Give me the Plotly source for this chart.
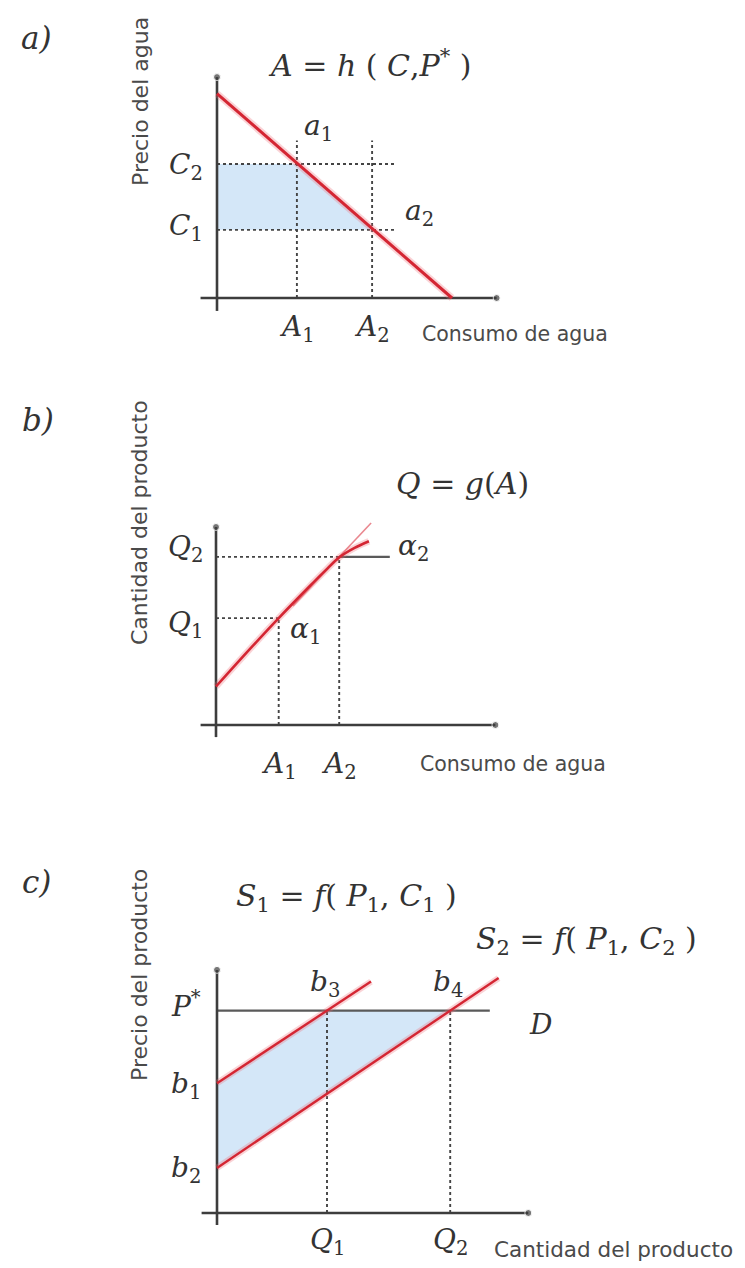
import plotly.graph_objects as go

W, H = 745, 1268

# ---------------- a) water price vs. water consumption ----------------
a_demand_x = [0.0, 10.0]
a_demand_y = [8.7, 0.0]
a_A = [3.4, 6.6]            # A1, A2 on the consumption axis
a_C = [2.9, 5.7]            # C1, C2 on the price axis
a_axis_end = (11.9, 9.4)    # arrow tips of x and y axes
a_guide_right = 7.6         # right end of the horizontal guides
a_guide_top = 6.7           # top end of the vertical guides

# ---------------- b) production function ----------------
b_curve_x = [0.0, 1.4, 2.85, 4.2, 5.0, 5.6, 6.3, 6.95]
b_curve_y = [1.75, 3.3, 4.86, 6.25, 7.05, 7.62, 8.05, 8.35]
b_tangent_x = [3.5, 7.05]
b_tangent_y = [5.41, 9.18]
b_A = [2.85, 5.6]           # A1, A2
b_Q = [4.86, 7.64]          # Q1, Q2
b_flat_end = 7.9
b_axis_end = (12.7, 9.0)

# ---------------- c) product market ----------------
c_s1_x = [0.0, 7.0]
c_s1_y = [5.9, 10.52]
c_s2_x = [0.0, 12.8]
c_s2_y = [2.05, 10.68]
c_Q = [5.0, 10.6]           # Q1, Q2
c_P = 9.2                   # P*
c_b = [5.9, 2.05]           # b1, b2 intercepts
c_D_end = 12.4
c_axis_end = (14.15, 11.05)

# page origin (px from left, px from top) and px per unit for each panel
FRAMES = [(217, 298, 23.5), (216, 725, 22.0), (217, 1213, 22.0)]
AX = [("x", "y"), ("x2", "y2"), ("x3", "y3")]

RED = "#d42633"
HALO = "rgba(240,110,120,0.30)"
AXIS = "#3d3d3d"
GUIDE = "#444444"
FILL = "#d4e7f8"
TXT = "#333333"
SANS_TXT = "#4a4a4a"
MATH = "DejaVu Serif, Liberation Serif, serif"
SANS = "DejaVu Sans, Verdana, sans-serif"
MATH_SIZE = 28
EQ_SIZE = 30

fig = go.Figure()


def trace(p, xs, ys, color, width, dash=None):
    fig.add_trace(go.Scatter(
        x=xs, y=ys, mode="lines",
        line=dict(color=color, width=width, dash=dash),
        xaxis=AX[p][0], yaxis=AX[p][1],
        hoverinfo="skip", showlegend=False))


def red(p, xs, ys, width=2.6, shape="linear"):
    for col, w in ((HALO, width + 4), (RED, width)):
        fig.add_trace(go.Scatter(x=xs, y=ys, mode="lines",
                                 line=dict(color=col, width=w, shape=shape, smoothing=0.8),
                                 xaxis=AX[p][0], yaxis=AX[p][1],
                                 hoverinfo="skip", showlegend=False))


def dashed(p, xs, ys):
    trace(p, xs, ys, GUIDE, 1.9, dash="3px,3px")


def region(p, xs, ys):
    fig.add_trace(go.Scatter(x=xs, y=ys, mode="lines", fill="toself",
                             fillcolor=FILL, line=dict(width=0),
                             xaxis=AX[p][0], yaxis=AX[p][1],
                             hoverinfo="skip", showlegend=False))


def axes(p, end):
    xe, ye = end
    for xs, ys in (([-0.7, xe], [0, 0]), ([0, 0], [-0.55, ye])):
        fig.add_trace(go.Scatter(x=xs, y=ys, mode="lines+markers",
                                 line=dict(color=AXIS, width=2.6),
                                 marker=dict(size=[0, 7], color=AXIS),
                                 xaxis=AX[p][0], yaxis=AX[p][1],
                                 hoverinfo="skip", showlegend=False))


ann = []


def label(p, text, x, y, dx=0, dy=0, size=MATH_SIZE, font=MATH, anchor="center", angle=0):
    ann.append(dict(text=text, x=x, y=y, xref=AX[p][0], yref=AX[p][1],
                    xshift=dx, yshift=dy, showarrow=False, textangle=angle,
                    xanchor=anchor, yanchor="middle",
                    font=dict(family=font, size=size, color=TXT)))


def page_label(text, px, py, size, font, anchor="center", angle=0, color=TXT):
    ann.append(dict(text=text, x=px / W, y=1 - py / H, xref="paper", yref="paper",
                    showarrow=False, textangle=angle, xanchor=anchor, yanchor="middle",
                    font=dict(family=font, size=size, color=color)))


def mi(s):
    return "<i>" + s + "</i>"


# ---------- panel a ----------
A1, A2 = a_A
C1, C2 = a_C
region(0, [0, A1, A2, 0, 0], [C2, C2, C1, C1, C2])
dashed(0, [0, a_guide_right], [C2, C2])
dashed(0, [0, a_guide_right], [C1, C1])
dashed(0, [A1, A1], [0, a_guide_top])
dashed(0, [A2, A2], [0, a_guide_top])
axes(0, a_axis_end)
red(0, a_demand_x, a_demand_y, width=3.0)

label(0, mi("A") + " = " + mi("h") + " ( " + mi("C") + "," + mi("P") + "<sup>*</sup> )", 6.5, 10.0, size=EQ_SIZE)
label(0, mi("a") + "<sub>1</sub>", A1, C2, dx=22, dy=37)
label(0, mi("a") + "<sub>2</sub>", A2, C1, dx=47, dy=17)
label(0, mi("C") + "<sub>2</sub>", 0, C2, dx=-31, dy=-2)
label(0, mi("C") + "<sub>1</sub>", 0, C1, dx=-31, dy=2)
label(0, mi("A") + "<sub>1</sub>", A1, 0, dy=-30)
label(0, mi("A") + "<sub>2</sub>", A2, 0, dy=-30)
page_label("Consumo de agua", 420, 334, 20.5, SANS, anchor="left", color=SANS_TXT)
page_label("Precio del agua", 141, 102, 22, SANS, angle=-90, color=SANS_TXT)
page_label(mi("a)"), 36, 38, 31, MATH)

# ---------- panel b ----------
bA1, bA2 = b_A
Q1, Q2 = b_Q
dashed(1, [0, bA2], [Q2, Q2])
dashed(1, [0, bA1], [Q1, Q1])
dashed(1, [bA1, bA1], [0, Q1])
dashed(1, [bA2, bA2], [0, Q2])
trace(1, [bA2, b_flat_end], [Q2, Q2], "#5a5a5a", 2.2)
axes(1, b_axis_end)
trace(1, b_tangent_x, b_tangent_y, "rgba(225,95,105,0.75)", 1.6)
red(1, b_curve_x, b_curve_y, width=2.6, shape="spline")

label(1, mi("Q") + " = " + mi("g") + "(" + mi("A") + ")", 11.2, 11.0, size=EQ_SIZE)
label(1, mi("α") + "<sub>2</sub>", bA2, Q2, dx=74, dy=9)
label(1, mi("α") + "<sub>1</sub>", bA1, Q1, dx=27, dy=-12)
label(1, mi("Q") + "<sub>2</sub>", 0, Q2, dx=-31, dy=8)
label(1, mi("Q") + "<sub>1</sub>", 0, Q1, dx=-31, dy=-6)
label(1, mi("A") + "<sub>1</sub>", bA1, 0, dy=-40)
label(1, mi("A") + "<sub>2</sub>", bA2, 0, dy=-40)
page_label("Consumo de agua", 418, 764, 20.5, SANS, anchor="left", color=SANS_TXT)
page_label("Cantidad del producto", 139, 523, 22, SANS, angle=-90, color=SANS_TXT)
page_label(mi("b)"), 38, 420, 31, MATH)

# ---------- panel c ----------
cQ1, cQ2 = c_Q
b1, b2 = c_b
region(2, [0, cQ1, cQ2, 0, 0], [b1, c_P, c_P, b2, b1])
dashed(2, [cQ1, cQ1], [0, c_P])
dashed(2, [cQ2, cQ2], [0, c_P])
trace(2, [0, c_D_end], [c_P, c_P], "#5a5a5a", 2.4)
axes(2, c_axis_end)
red(2, c_s1_x, c_s1_y, width=2.4)
red(2, c_s2_x, c_s2_y, width=2.4)

label(2, mi("S") + "<sub>1</sub> = " + mi("f") + "( " + mi("P") + "<sub>1</sub>, " + mi("C") + "<sub>1</sub> )",
      5.9, 14.35, size=EQ_SIZE)
label(2, mi("S") + "<sub>2</sub> = " + mi("f") + "( " + mi("P") + "<sub>1</sub>, " + mi("C") + "<sub>2</sub> )",
      16.8, 12.4, size=EQ_SIZE)
label(2, mi("b") + "<sub>3</sub>", cQ1, c_P, dx=-2, dy=27)
label(2, mi("b") + "<sub>4</sub>", cQ2, c_P, dx=-2, dy=27)
label(2, mi("D"), 14.7, c_P, dy=-14)
label(2, mi("P") + "<sup>*</sup>", 0, c_P, dx=-31, dy=6)
label(2, mi("b") + "<sub>1</sub>", 0, b1, dx=-31, dy=-2)
label(2, mi("b") + "<sub>2</sub>", 0, b2, dx=-31, dy=-2)
label(2, mi("Q") + "<sub>1</sub>", cQ1, 0, dy=-28)
label(2, mi("Q") + "<sub>2</sub>", cQ2, 0, dy=-28)
page_label("Cantidad del producto", 492, 1249, 21.5, SANS, anchor="left", color=SANS_TXT)
page_label("Precio del producto", 139, 975, 22, SANS, angle=-90, color=SANS_TXT)
page_label(mi("c)"), 36, 882, 31, MATH)

# ---------- layout: one page-sized axis pair per panel ----------
layout = dict(width=W, height=H, margin=dict(l=0, r=0, t=0, b=0),
              paper_bgcolor="white", plot_bgcolor="white",
              showlegend=False, annotations=ann)
for i, (ox, oy, s) in enumerate(FRAMES):
    n = "" if i == 0 else str(i + 1)
    xa = dict(range=[-ox / s, (W - ox) / s], domain=[0, 1], visible=False,
              fixedrange=True, anchor="y" + n)
    ya = dict(range=[-(H - oy) / s, oy / s], domain=[0, 1], visible=False,
              fixedrange=True, anchor="x" + n)
    if i:
        xa["overlaying"] = "x"
        ya["overlaying"] = "y"
    layout["xaxis" + n] = xa
    layout["yaxis" + n] = ya

fig.update_layout(**layout)
fig.write_html("out.html", config={"displayModeBar": False})
